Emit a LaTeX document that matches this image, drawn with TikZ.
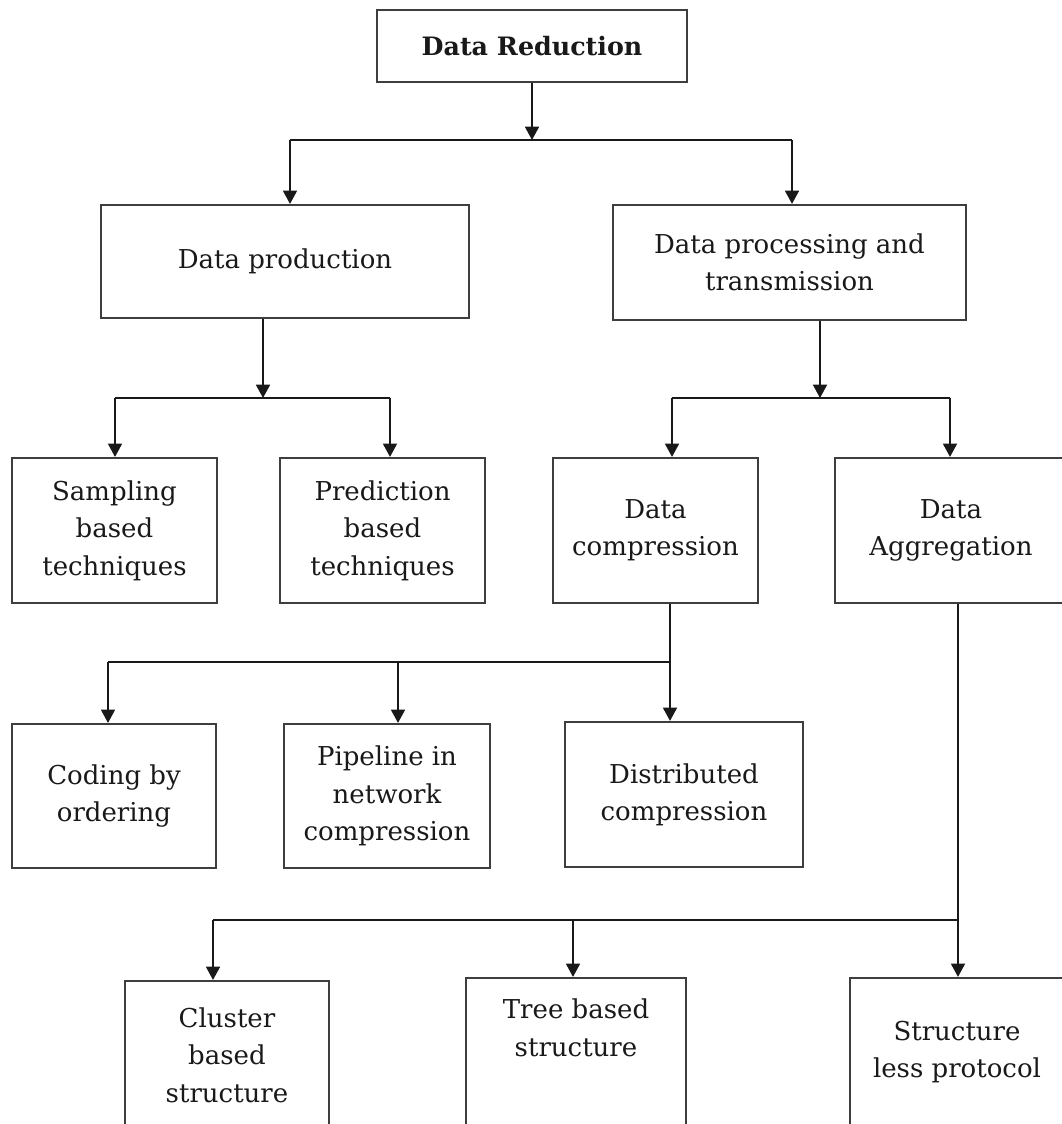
\documentclass[tikz,border=0pt]{standalone}
\usepackage{fontspec}
\setmainfont{DejaVu Serif}
\usetikzlibrary{arrows.meta}
\begin{document}
\begin{tikzpicture}[x=0.75pt,y=-0.75pt,
  box/.style={draw=boxgray,line width=1.6pt,rectangle,align=center,
    inner sep=0pt,font=\fontsize{19.5}{28}\selectfont,text=black!90},
  sz/.style 2 args={minimum width=#1*0.75pt,minimum height=#2*0.75pt},
  link/.style={draw=black!90,line width=1.3pt},
  arr/.style={link,-{Triangle[width=10.5pt,length=10pt]}}]
\definecolor{boxgray}{HTML}{3E3E3E}
\useasboundingbox (0,0) rectangle (1062,1124);
\clip (0,0) rectangle (1062,1124);

% boxes
\node[box,sz={310}{72},font=\bfseries\fontsize{19}{28}\selectfont] (top) at (532,46) {Data Reduction};
\node[box,sz={368}{113}] (prod) at (285,261.5) {Data production};
\node[box,sz={353}{115}] (proc) at (789.5,262.5) {Data processing and\\transmission};
\node[box,sz={205}{145}] (samp) at (114.5,530.5) {Sampling\\based\\techniques};
\node[box,sz={205}{145}] (pred) at (382.5,530.5) {Prediction\\based\\techniques};
\node[box,sz={205}{145}] (comp) at (655.5,530.5) {Data\\compression};
\node[box,sz={232}{145}] (aggr) at (951,530.5) {Data\\Aggregation};
\node[box,sz={204}{144}] (code) at (114,796) {Coding by\\ordering};
\node[box,sz={206}{144}] (pipe) at (387,796) {Pipeline in\\network\\compression};
\node[box,sz={238}{145}] (dist) at (684,794.5) {Distributed\\compression};
\node[box,sz={204}{148}] (clus) at (227,1055) {Cluster\\based\\structure};
\node[box,sz={220}{148}] (tree) at (576,1052) {Tree based\\structure\\\strut};
\node[box,sz={214}{148}] (sless) at (957,1052) {Structure\\less protocol};

% junction points of the branch lines
\coordinate (j1) at (532,140);
\coordinate (j1l) at (290,140);
\coordinate (j1r) at (792,140);
\coordinate (j2) at (263,398);
\coordinate (j2l) at (115,398);
\coordinate (j2r) at (390,398);
\coordinate (j3) at (820,398);
\coordinate (j3l) at (672,398);
\coordinate (j3r) at (950,398);
\coordinate (j4) at (670,662);
\coordinate (j4l) at (108,662);
\coordinate (j4m) at (398,662);
\coordinate (j5) at (958,920);
\coordinate (j5l) at (213,920);
\coordinate (j5m) at (573,920);

% level 1
\draw[arr] (top.south) -- (j1);
\draw[link] (j1l) -- (j1r);
\draw[arr] (j1l) -- (j1l |- prod.north);
\draw[arr] (j1r) -- (j1r |- proc.north);

% data production branch
\draw[arr] (j2 |- prod.south) -- (j2);
\draw[link] (j2l) -- (j2r);
\draw[arr] (j2l) -- (j2l |- samp.north);
\draw[arr] (j2r) -- (j2r |- pred.north);

% processing and transmission branch
\draw[arr] (j3 |- proc.south) -- (j3);
\draw[link] (j3l) -- (j3r);
\draw[arr] (j3l) -- (j3l |- comp.north);
\draw[arr] (j3r) -- (j3r |- aggr.north);

% compression branch
\draw[link] (j4 |- comp.south) -- (j4) -- (j4l);
\draw[arr] (j4l) -- (j4l |- code.north);
\draw[arr] (j4m) -- (j4m |- pipe.north);
\draw[arr] (j4) -- (j4 |- dist.north);

% aggregation branch
\draw[link] (j5 |- aggr.south) -- (j5) -- (j5l);
\draw[arr] (j5l) -- (j5l |- clus.north);
\draw[arr] (j5m) -- (j5m |- tree.north);
\draw[arr] (j5) -- (j5 |- sless.north);
\end{tikzpicture}
\end{document}
